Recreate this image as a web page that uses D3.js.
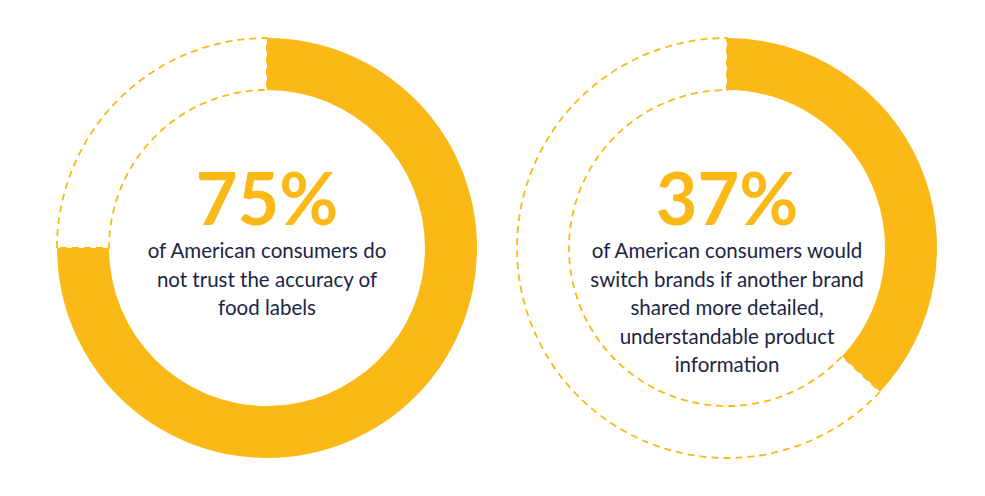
<!DOCTYPE html>
<html><head><meta charset="utf-8">
<script src="https://cdn.jsdelivr.net/npm/d3@7"></script>
<style>body{margin:0;background:#fff}</style>
</head><body>
<svg id="chart" width="985" height="496"></svg>
<script>
// chart data
var percents = [75, 37];
var captions = [
    ["of American consumers do", "not trust the accuracy of", "food labels"],
    ["of American consumers would", "switch brands if another brand", "shared more detailed,", "understandable product", "information"]
];
var centersX = [267, 727];

var YELLOW = "#FBB917", NAVY = "#1b2544";
var svg = d3.select("#chart");
var outerR = 210, innerR = 158, cy = 248;
var angle = d3.scaleLinear().domain([0, 100]).range([0, 2 * Math.PI]);
var arc = d3.arc().innerRadius(innerR).outerRadius(outerR);

var g = svg.selectAll("g.donut").data(percents).enter().append("g")
    .attr("class", "donut")
    .attr("transform", function (d, i) { return "translate(" + centersX[i] + "," + cy + ")"; });

// remaining part, dashed outline
g.append("path")
    .attr("d", function (d) { return arc({startAngle: angle(d), endAngle: angle(100)}); })
    .attr("fill", "none").attr("stroke", YELLOW).attr("stroke-width", 1.8)
    .attr("stroke-dasharray", "7,5");

// filled share
g.append("path")
    .attr("d", function (d) { return arc({startAngle: 0, endAngle: angle(d)}); })
    .attr("fill", YELLOW);

g.append("text")
    .attr("text-anchor", "middle").attr("y", -23)
    .attr("font-family", "Lato, 'Open Sans', sans-serif").attr("font-weight", "bold")
    .attr("font-size", 72).attr("fill", YELLOW)
    .text(function (d) { return d + "%"; });

g.each(function (d, i) {
    d3.select(this).selectAll("text.cap").data(captions[i]).enter().append("text")
        .attr("class", "cap").attr("text-anchor", "middle")
        .attr("y", function (t, j) { return 10 + j * 28.5; })
        .attr("font-family", "Lato, 'Open Sans', sans-serif")
        .attr("font-size", 20.5).attr("fill", NAVY)
        .text(function (t) { return t; });
});
</script>
</body></html>
